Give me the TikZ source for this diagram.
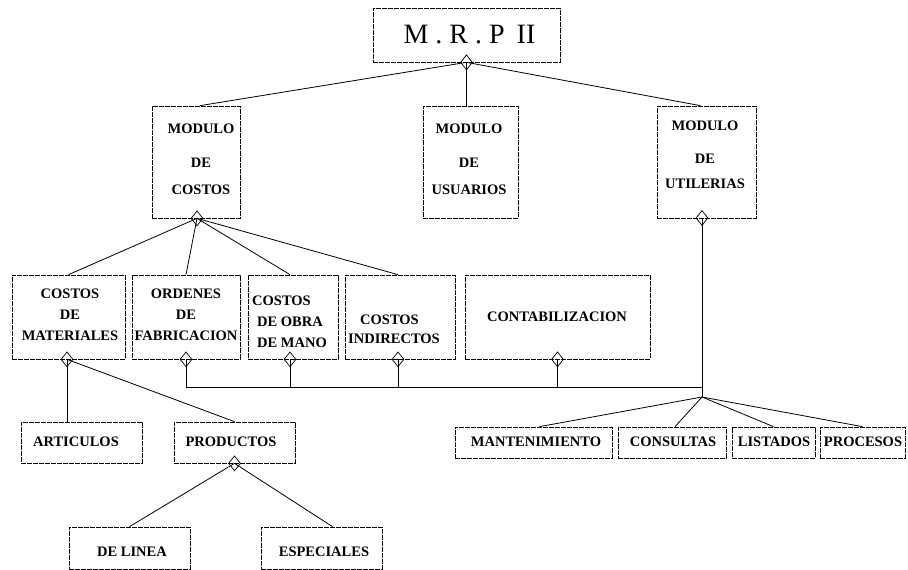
\documentclass[tikz,border=0pt]{standalone}
\usepackage{fontspec}
\setmainfont{Liberation Serif}
\usetikzlibrary{shapes.geometric,calc}
\begin{document}
\begin{tikzpicture}[x=1pt,y=-1pt,
  box/.style={draw, rectangle, line width=0.7pt, dash pattern=on 5pt off 1pt, inner sep=0pt},
  dmd/.style={draw, diamond, line width=0.7pt, inner sep=0pt, minimum width=12pt, minimum height=15pt},
  link/.style={line width=0.8pt},
  lbl/.style={font=\bfseries\fontsize{14.5}{17}\selectfont, inner sep=0pt, align=center},
]
\useasboundingbox (0,0) rectangle (908,570);

% ---- boxes ----
\node[box, minimum width=187pt, minimum height=54pt]  (mrp) at (466.5,35) {};
\node[box, minimum width=88pt,  minimum height=112pt] (cos) at (196,162) {};
\node[box, minimum width=95pt,  minimum height=112pt] (usu) at (470.5,162) {};
\node[box, minimum width=99pt,  minimum height=112pt] (uti) at (706.5,162) {};

\node[box, minimum width=113pt, minimum height=84pt] (mat) at (68.5,317) {};
\node[box, minimum width=108pt, minimum height=84pt] (ord) at (186,317) {};
\node[box, minimum width=90pt,  minimum height=84pt] (obr) at (293,317) {};
\node[box, minimum width=110pt, minimum height=84pt] (ind) at (400,317) {};
\node[box, minimum width=185pt, minimum height=84pt] (con) at (557.5,317) {};

\node[box, minimum width=121pt, minimum height=41pt] (art) at (81.5,442.5) {};
\node[box, minimum width=121pt, minimum height=41pt] (pro) at (234.5,442.5) {};
\node[box, minimum width=121pt, minimum height=42pt] (lin) at (129.5,548) {};
\node[box, minimum width=121pt, minimum height=42pt] (esp) at (321.5,548) {};

\node[box, minimum width=157pt, minimum height=31pt] (man) at (533.5,442.5) {};
\node[box, minimum width=108pt, minimum height=31pt] (cns) at (672,442.5) {};
\node[box, minimum width=83pt,  minimum height=31pt] (lis) at (773.5,442.5) {};
\node[box, minimum width=85pt,  minimum height=31pt] (prc) at (862.5,442.5) {};

% ---- texts ----
\node[font=\fontsize{28}{32}\selectfont, inner sep=0pt] (mrp-t) at (469.5,35)
  {M\hspace{7pt}.\hspace{7pt}R\hspace{7pt}.\hspace{7pt}P\hspace{12pt}II};
\node[lbl] (cos-t) at (201,159) {MODULO\\[17pt]DE\\[10pt]COSTOS};
\node[lbl] (usu-t) at (469,159) {MODULO\\[17pt]DE\\[10pt]USUARIOS};
\node[lbl] (uti-t) at (705,155) {MODULO\\[16pt]DE\\[8pt]UTILERIAS};

\node[lbl] (mat-t) at (70,315) {COSTOS\\[4pt]DE\\[4pt]MATERIALES};
\node[lbl] (ord-t) at (186,315) {ORDENES\\[4pt]DE\\[4pt]FABRICACION};
\node[lbl, align=left, anchor=west] (obr-t) at (252,322)
  {COSTOS\\[4pt]\hspace*{5pt}DE OBRA\\[4pt]\hspace*{5pt}DE MANO};
\node[lbl, align=left, anchor=west] (ind-t) at (348,329)
  {\hspace*{12pt}COSTOS\\[2pt]INDIRECTOS};
\node[lbl] (con-t) at (557,317) {CONTABILIZACION};

\node[lbl] (art-t) at (76,442) {ARTICULOS};
\node[lbl] (pro-t) at (231,442) {PRODUCTOS};
\node[lbl] (lin-t) at (132,552) {DE LINEA};
\node[lbl] (esp-t) at (324,552) {ESPECIALES};

\node[lbl] (man-t) at (536,442) {MANTENIMIENTO};
\node[lbl] (cns-t) at (673,442) {CONSULTAS};
\node[lbl] (lis-t) at (774,442) {LISTADOS};
\node[lbl] (prc-t) at (863,442) {PROCESOS};

% ---- diamonds at the parent ends ----
\node[dmd] (d-mrp) at (mrp.south) {};
\node[dmd] (d-cos) at ($(cos.south)+(1,0)$) {};
\node[dmd] (d-uti) at (702,218) {};
\node[dmd] (d-mat) at ($(mat.south)+(-1.5,0)$) {};
\node[dmd] (d-ord) at (ord.south) {};
\node[dmd] (d-obr) at ($(obr.south)+(-3,0)$) {};
\node[dmd] (d-ind) at ($(ind.south)+(-2,0)$) {};
\node[dmd] (d-con) at (con.south) {};
\node[dmd] (d-pro) at (pro.south) {};

% ---- junction points ----
\coordinate (bus) at (702,387);
\coordinate (fan) at (702,397);

% ---- connectors ----
\draw[link] (d-mrp.center) -- ($(cos.north)+(4,0)$);
\draw[link] (d-mrp.center) -- (d-mrp.center |- usu.north);
\draw[link] (d-mrp.center) -- ($(uti.north)+(-6,0)$);

\draw[link] (d-cos.center) -- (mat.north);
\draw[link] (d-cos.center) -- (ord.north);
\draw[link] (d-cos.center) -- ($(obr.north)+(-3,0)$);
\draw[link] (d-cos.center) -- ($(ind.north)+(-2,0)$);

\draw[link] (d-mat.center) -- (d-mat.center |- art.north);
\draw[link] (d-mat.center) -- (pro.north);
\draw[link] (d-pro.center) -- (lin.north);
\draw[link] (d-pro.center) -- ($(esp.north)+(11,0)$);

\draw[link] (d-ord.center) |- (bus);
\draw[link] (d-obr.center) -- (d-obr.center |- bus);
\draw[link] (d-ind.center) -- (d-ind.center |- bus);
\draw[link] (d-con.center) -- (d-con.center |- bus);
\draw[link] (d-uti.center) -- (fan);

\draw[link] (fan) -- ($(man.north)+(6,0)$);
\draw[link] (fan) -- ($(cns.north)+(3,0)$);
\draw[link] (fan) -- (lis.north);
\draw[link] (fan) -- (prc.north);
\end{tikzpicture}
\end{document}
